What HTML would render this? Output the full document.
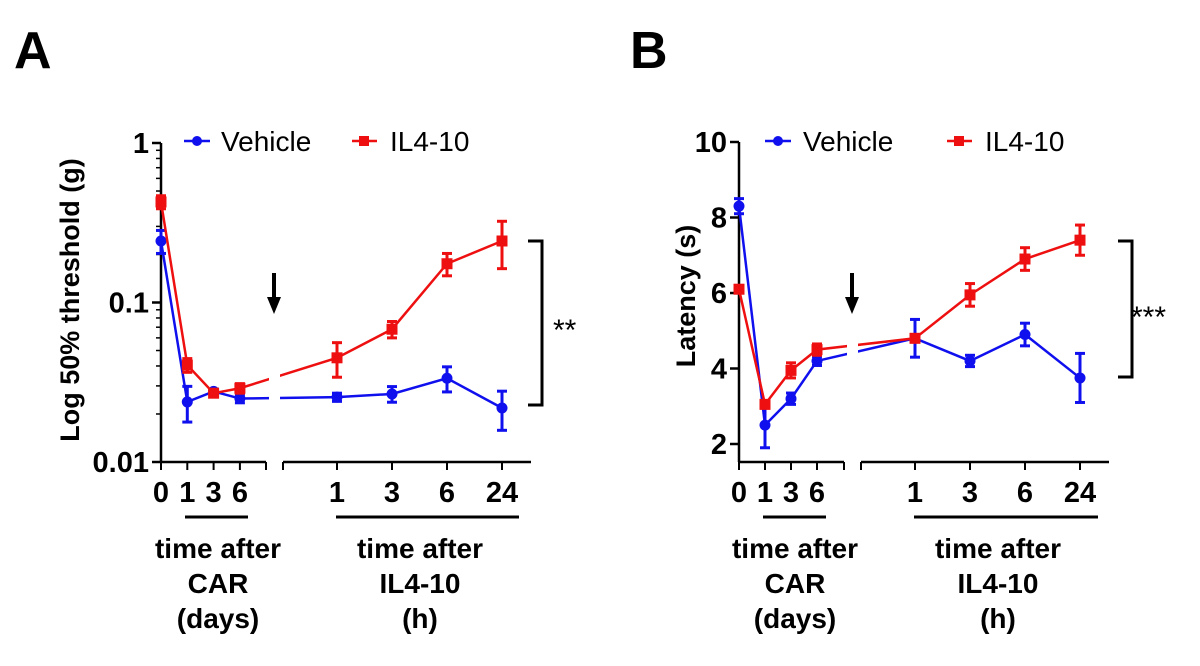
<!DOCTYPE html>
<html><head><meta charset="utf-8"><style>
body{margin:0;background:#fff}
svg{display:block;font-family:"Liberation Sans",Arial,sans-serif}
</style></head><body>
<svg id="s" width="1200" height="666" viewBox="0 0 1200 666"></svg>
<script>
const catsLeft=["0","1","3","6"];
const catsRight=["1","3","6","24"];
const aVehicle=[0.243,0.0238,0.0277,0.025,0.0255,0.0267,0.0335,0.0218];
const aVehicleErr=[0.04,0.006,0.001,0.0015,0.0015,0.003,0.006,0.006];
const aIL=[0.427,0.0405,0.027,0.029,0.045,0.068,0.175,0.243];
const aILErr=[0.04,0.004,0.001,0.002,0.011,0.008,0.028,0.08];
const bVehicle=[8.3,2.5,3.2,4.2,4.8,4.2,4.9,3.75];
const bVehicleErr=[0.2,0.6,0.15,0.12,0.5,0.15,0.3,0.65];
const bIL=[6.1,3.05,3.95,4.5,4.8,5.95,6.9,7.4];
const bILErr=[0.1,0.1,0.2,0.15,0.1,0.3,0.3,0.4];
const aTicks=[1,0.1,0.01];const aTickLabels=["1","0.1","0.01"];
const bTicks=[2,4,6,8,10];

const S=document.getElementById('s');const NS='http://www.w3.org/2000/svg';
function el(t,a,txt){const e=document.createElementNS(NS,t);for(const k in a)e.setAttribute(k,a[k]);if(txt!=null)e.textContent=txt;S.appendChild(e);return e;}

function panel(o){
  const xs=i=> i<4 ? o.x0+i*o.ls : o.r0+(i-4)*o.rs;
  const Y=o.y;
  let e=el('line',{x1:o.x0,y1:o.top,x2:o.x0,y2:462,stroke:'#000','stroke-width':2.5});
  
  e=el('line',{x1:o.x0,y1:462,x2:o.x0+105,y2:462,stroke:'#000','stroke-width':2.5});
  
  e=el('line',{x1:o.x0+122,y1:462,x2:o.x0+370,y2:462,stroke:'#000','stroke-width':2.5});
  
  [o.x0+105,o.x0+122].forEach(x=>el('line',{x1:x,y1:462,x2:x,y2:470,stroke:'#000','stroke-width':2}));
  for(let i=0;i<8;i++){el('line',{x1:xs(i),y1:462,x2:xs(i),y2:470,stroke:'#000','stroke-width':2});
    e=el('text',{x:xs(i),y:502,'text-anchor':'middle','font-size':29,'font-weight':'bold'},i<4?catsLeft[i]:catsRight[i-4]);
    }
  o.ticks.forEach((t,i)=>{el('line',{x1:o.x0-9,y1:Y(t),x2:o.x0,y2:Y(t),stroke:'#000','stroke-width':2.5});
    e=el('text',{x:o.x0-12,y:Y(t)+10,'text-anchor':'end','font-size':29,'font-weight':'bold'},o.tl[i]);
    });
  if(o.minor)o.minor.forEach(t=>el('line',{x1:o.x0-5,y1:Y(t),x2:o.x0,y2:Y(t),stroke:'#000','stroke-width':1.5}));
  [[o.v,o.ve,'#1010ee','vehicle'],[o.il,o.ile,'#ee1010','il4-10']].forEach(([v,er,c,n])=>{
    let d='';v.forEach((val,i)=>{d+=(i?'L':'M')+xs(i)+','+Y(val);});
    e=el('path',{d:d,fill:'none',stroke:c,'stroke-width':2.5});
    
    v.forEach((val,i)=>{const x=xs(i),y1=Y(val+er[i]),y2=Y(Math.max(val-er[i],1e-6));
      el('line',{x1:x,y1:y1,x2:x,y2:y2,stroke:c,'stroke-width':3});
      el('line',{x1:x-5,y1:y1,x2:x+5,y2:y1,stroke:c,'stroke-width':3});
      el('line',{x1:x-5,y1:y2,x2:x+5,y2:y2,stroke:c,'stroke-width':3});
      e= n==='vehicle'? el('circle',{cx:x,cy:Y(val),r:5.5,fill:c}) : el('rect',{x:x-5.5,y:Y(val)-5.5,width:11,height:11,fill:c});
      });
  });
  el('rect',{x:o.x0+108,y:o.top+20,width:11,height:300,fill:'#fff'});
}
const yA=v=>143+(-Math.log10(v))*159.5;
const minorA=[];[0.01,0.1].forEach(b=>{for(let k=2;k<10;k++)minorA.push(b*k);});
panel({p:'a',x0:161,ls:26.3,r0:337,rs:55,top:143,y:yA,ticks:aTicks,tl:aTickLabels,minor:minorA,v:aVehicle,ve:aVehicleErr,il:aIL,ile:aILErr});
const yB=v=>142+(10-v)*37.75;
panel({p:'b',x0:739,ls:26,r0:915,rs:55,top:142,y:yB,ticks:bTicks,tl:bTicks.map(String),v:bVehicle,ve:bVehicleErr,il:bIL,ile:bILErr});
</script>
<script>
function ann(){
 const h=`
 <text x="14" y="68" font-size="52" font-weight="bold">A</text>
 <text x="630" y="68" font-size="52" font-weight="bold">B</text>
 <text transform="translate(79,300) rotate(-90)" text-anchor="middle" font-size="27" font-weight="bold">Log 50% threshold (g)</text>
 <text transform="translate(695,296) rotate(-90)" text-anchor="middle" font-size="27" font-weight="bold">Latency (s)</text>
 <g>
  <line x1="184" y1="141" x2="210" y2="141" stroke="#1010ee" stroke-width="2.5"/><circle cx="197" cy="141" r="5" fill="#1010ee"/>
  <text x="221" y="151" font-size="28">Vehicle</text>
  <line x1="352" y1="141" x2="377" y2="141" stroke="#ee1010" stroke-width="2.5"/><rect x="359" y="136" width="10" height="10" fill="#ee1010"/>
  <text x="390" y="151" font-size="28">IL4-10</text></g>
 <g>
  <line x1="765" y1="141" x2="791" y2="141" stroke="#1010ee" stroke-width="2.5"/><circle cx="778" cy="141" r="5" fill="#1010ee"/>
  <text x="803" y="151" font-size="28">Vehicle</text>
  <line x1="947" y1="141" x2="972" y2="141" stroke="#ee1010" stroke-width="2.5"/><rect x="954" y="136" width="10" height="10" fill="#ee1010"/>
  <text x="985" y="151" font-size="28">IL4-10</text></g>
 <path d="M528,241 H542 V405 H528" fill="none" stroke="#000" stroke-width="3"/>
 <text x="553" y="340" font-size="30">**</text>
 <path d="M1118,241 H1132 V377 H1118" fill="none" stroke="#000" stroke-width="3"/>
 <text x="1131" y="327" font-size="30">***</text>
 <g><line x1="274" y1="273" x2="274" y2="302" stroke="#000" stroke-width="4"/><path d="M267,297 L281,297 L274,314 Z"/></g>
 <g><line x1="852" y1="273" x2="852" y2="302" stroke="#000" stroke-width="4"/><path d="M845,297 L859,297 L852,314 Z"/></g>
 <line x1="185" y1="517" x2="248" y2="517" stroke="#000" stroke-width="3"/>
 <line x1="336" y1="517" x2="519" y2="517" stroke="#000" stroke-width="3"/>
 <line x1="763" y1="517" x2="826" y2="517" stroke="#000" stroke-width="3"/>
 <line x1="914" y1="517" x2="1098" y2="517" stroke="#000" stroke-width="3"/>
 <g font-size="28" font-weight="bold" text-anchor="middle">
 <text x="218" y="558"><tspan x="218">time after</tspan><tspan x="218" dy="35">CAR</tspan><tspan x="218" dy="35">(days)</tspan></text>
 <text x="420" y="558"><tspan x="420">time after</tspan><tspan x="420" dy="35">IL4-10</tspan><tspan x="420" dy="35">(h)</tspan></text>
 <text x="795" y="558"><tspan x="795">time after</tspan><tspan x="795" dy="35">CAR</tspan><tspan x="795" dy="35">(days)</tspan></text>
 <text x="998" y="558"><tspan x="998">time after</tspan><tspan x="998" dy="35">IL4-10</tspan><tspan x="998" dy="35">(h)</tspan></text>
 </g>`;
 S.insertAdjacentHTML('beforeend',h);
}
ann();
</script>
</body></html>
